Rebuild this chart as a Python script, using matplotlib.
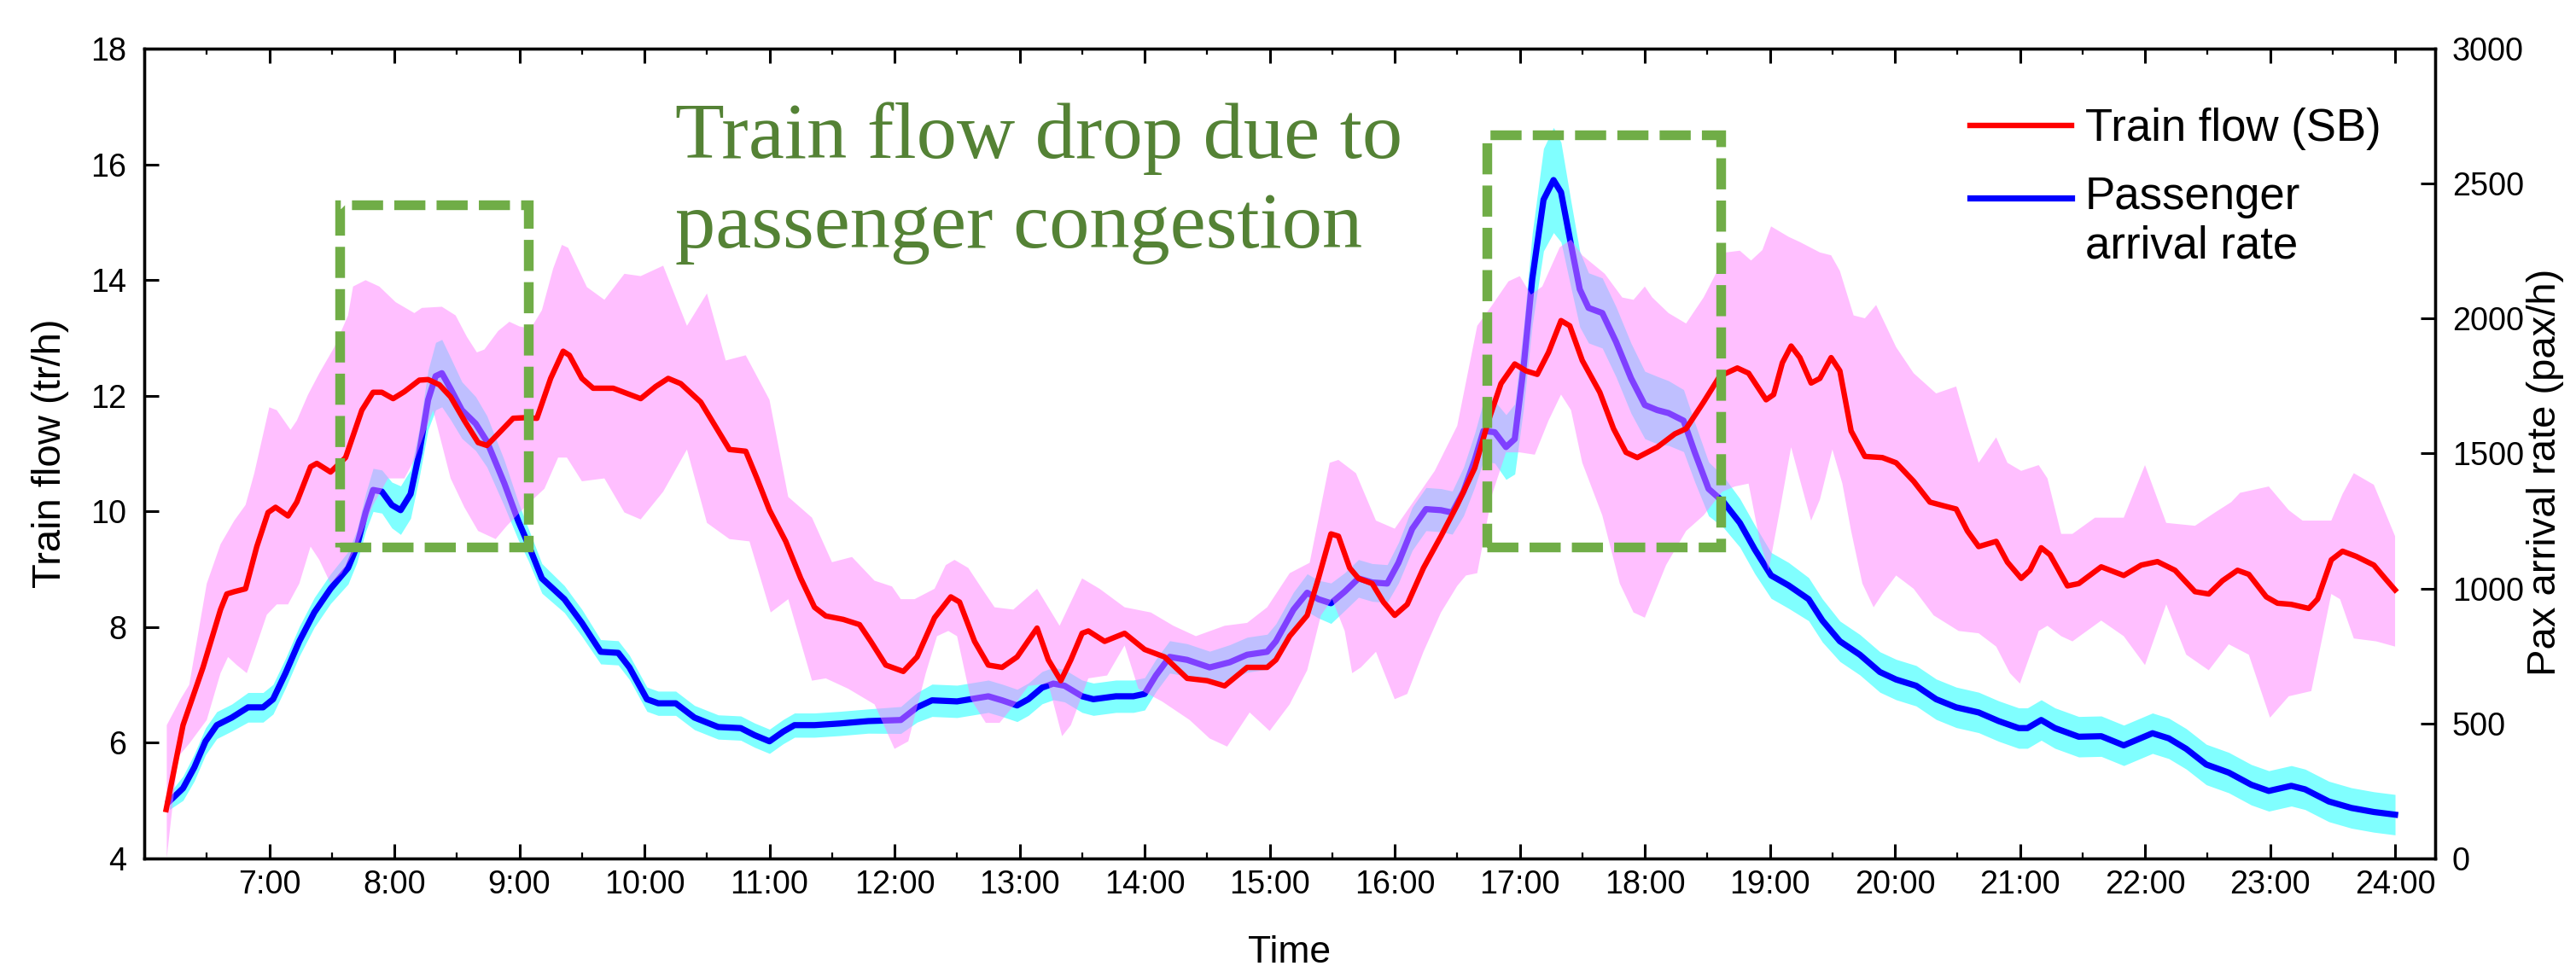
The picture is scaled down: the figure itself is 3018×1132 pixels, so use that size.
import numpy as np
import matplotlib
matplotlib.use('Agg')
import matplotlib.pyplot as plt
from matplotlib.patches import Rectangle
from matplotlib.lines import Line2D

plt.rcParams['font.family'] = ['Liberation Sans Narrow', 'Liberation Sans', 'DejaVu Sans']

# train flow (SB), tr/h, against hour of day
flow_t = [6.175, 6.31, 6.47, 6.61, 6.66, 6.72, 6.81, 6.90, 6.99, 7.05, 7.15, 7.22, 7.33, 7.38, 7.49,
          7.61, 7.74, 7.83, 7.90, 7.99, 8.08, 8.20, 8.27, 8.36, 8.45, 8.56, 8.67, 8.74, 8.83, 8.95,
          9.04, 9.14, 9.25, 9.35, 9.40, 9.50, 9.59, 9.75, 9.86, 9.97, 10.09, 10.19, 10.29, 10.45,
          10.54, 10.68, 10.81, 10.90, 11.00, 11.13, 11.25, 11.36, 11.45, 11.59, 11.72, 11.81, 11.93,
          12.07, 12.18, 12.32, 12.45, 12.52, 12.64, 12.75, 12.86, 12.98, 13.14, 13.23, 13.33, 13.41,
          13.50, 13.55, 13.68, 13.84, 14.00, 14.16, 14.34, 14.50, 14.64, 14.82, 14.98, 15.05, 15.16,
          15.30, 15.39, 15.49, 15.55, 15.64, 15.71, 15.82, 15.91, 16.00, 16.10, 16.23, 16.37, 16.50,
          16.64, 16.75, 16.85, 16.96, 17.05, 17.14, 17.23, 17.33, 17.40, 17.50, 17.64, 17.75, 17.85,
          17.94, 18.10, 18.24, 18.33, 18.47, 18.60, 18.74, 18.83, 18.97, 19.03, 19.10, 19.17, 19.24,
          19.33, 19.40, 19.49, 19.56, 19.65, 19.76, 19.90, 20.01, 20.15, 20.28, 20.40, 20.49, 20.58,
          20.67, 20.81, 20.90, 21.01, 21.08, 21.17, 21.24, 21.38, 21.47, 21.65, 21.83, 21.97, 22.10,
          22.24, 22.40, 22.51, 22.62, 22.74, 22.83, 22.97, 23.06, 23.17, 23.31, 23.38, 23.49, 23.58,
          23.69, 23.83, 23.92, 24.00]
flow = [4.84, 6.30, 7.30, 8.30, 8.57, 8.61, 8.66, 9.39, 9.98, 10.07, 9.92, 10.16, 10.77, 10.83, 10.68,
        10.93, 11.75, 12.06, 12.06, 11.95, 12.07, 12.27, 12.28, 12.19, 11.98, 11.57, 11.19, 11.14, 11.34, 11.61,
        11.62, 11.61, 12.30, 12.77, 12.70, 12.30, 12.13, 12.13, 12.04, 11.95, 12.16, 12.30, 12.21, 11.89,
        11.57, 11.07, 11.04, 10.57, 10.02, 9.48, 8.84, 8.34, 8.19, 8.13, 8.04, 7.75, 7.34,
        7.23, 7.48, 8.16, 8.52, 8.43, 7.75, 7.34, 7.30, 7.48, 7.98, 7.43, 7.07, 7.43,
        7.89, 7.93, 7.75, 7.89, 7.61, 7.48, 7.11, 7.07, 6.98, 7.30, 7.30, 7.43, 7.84,
        8.20, 8.84, 9.61, 9.57, 9.02, 8.84, 8.75, 8.43, 8.20, 8.39, 9.02, 9.57, 10.11,
        10.75, 11.57, 12.21, 12.55, 12.43, 12.37, 12.75, 13.30, 13.21, 12.61, 12.06, 11.43, 11.02,
        10.93, 11.11, 11.34, 11.43, 11.89, 12.34, 12.48, 12.39, 11.93, 12.02, 12.57, 12.86, 12.66,
        12.22, 12.30, 12.66, 12.43, 11.39, 10.95, 10.93, 10.84, 10.52, 10.16, 10.09, 10.04, 9.66,
        9.39, 9.48, 9.12, 8.84, 8.98, 9.37, 9.25, 8.71, 8.75, 9.04, 8.89, 9.07, 9.13,
        8.98, 8.61, 8.57, 8.80, 8.98, 8.91, 8.52, 8.41, 8.39, 8.32, 8.48, 9.16, 9.31,
        9.22, 9.07, 8.84, 8.64]

# train flow spread, upper edge
flow_hi_t = [6.18, 6.29, 6.36, 6.50, 6.61, 6.72, 6.81, 6.88, 7.00, 7.06, 7.17, 7.22, 7.31, 7.40, 7.52,
             7.63, 7.67, 7.77, 7.88, 8.01, 8.16, 8.22, 8.38, 8.49, 8.58, 8.66, 8.72, 8.83, 8.92, 9.00,
             9.09, 9.18, 9.27, 9.34, 9.39, 9.54, 9.68, 9.84, 9.97, 10.15, 10.34, 10.50, 10.65, 10.81,
             11.00, 11.15, 11.34, 11.50, 11.66, 11.84, 11.98, 12.05, 12.16, 12.32, 12.41, 12.48, 12.59,
             12.70, 12.80, 12.95, 13.14, 13.32, 13.50, 13.64, 13.84, 14.05, 14.23, 14.41, 14.64, 14.82,
             14.98, 15.16, 15.32, 15.48, 15.55, 15.69, 15.85, 16.00, 16.16, 16.32, 16.50, 16.66, 16.78,
             16.91, 17.00, 17.09, 17.18, 17.32, 17.41, 17.50, 17.68, 17.82, 17.91, 18.00, 18.06, 18.19,
             18.33, 18.47, 18.58, 18.65, 18.76, 18.85, 18.94, 19.01, 19.15, 19.24, 19.40, 19.49, 19.56,
             19.67, 19.76, 19.85, 20.01, 20.15, 20.33, 20.49, 20.58, 20.67, 20.81, 20.90, 21.01, 21.15,
             21.22, 21.33, 21.42, 21.60, 21.83, 22.00, 22.17, 22.40, 22.56, 22.69, 22.76, 22.99, 23.15,
             23.26, 23.49, 23.58, 23.67, 23.83, 24.00]
flow_hi = [6.30, 6.75, 7.00, 8.75, 9.43, 9.84, 10.11, 10.66, 11.80, 11.75, 11.41, 11.57, 12.02, 12.39, 12.84,
           13.39, 13.89, 14.00, 13.89, 13.62, 13.43, 13.52, 13.54, 13.39, 13.02, 12.75, 12.80, 13.12, 13.28, 13.20,
           13.16, 13.48, 14.20, 14.61, 14.56, 13.88, 13.66, 14.11, 14.07, 14.25, 13.21, 13.77, 12.61, 12.70,
           11.93, 10.25, 9.89, 9.12, 9.21, 8.80, 8.70, 8.48, 8.48, 8.66, 9.07, 9.16, 9.02,
           8.66, 8.34, 8.30, 8.66, 8.02, 8.84, 8.66, 8.34, 8.25, 8.02, 7.84, 8.02, 8.07,
           8.34, 8.93, 9.11, 10.84, 10.89, 10.66, 9.84, 9.70, 10.20, 10.70, 11.48, 13.21, 13.57,
           13.98, 14.07, 13.75, 13.89, 14.57, 14.70, 14.43, 14.11, 13.70, 13.66, 13.89, 13.70, 13.43,
           13.25, 13.70, 14.16, 14.48, 14.51, 14.34, 14.52, 14.93, 14.75, 14.66, 14.48, 14.43, 14.16,
           13.39, 13.34, 13.57, 12.84, 12.39, 12.04, 12.16, 11.48, 10.84, 11.28, 10.84, 10.70, 10.80,
           10.57, 9.61, 9.61, 9.89, 9.89, 10.80, 9.80, 9.75, 9.98, 10.16, 10.32, 10.43, 10.02,
           9.84, 9.84, 10.30, 10.66, 10.46, 9.57]

# train flow spread, lower edge
flow_lo_t = [6.18, 6.27, 6.36, 6.50, 6.61, 6.67, 6.74, 6.82, 6.88, 6.98, 7.06, 7.15, 7.24, 7.33, 7.40,
             7.49, 7.58, 7.70, 7.83, 7.95, 8.08, 8.17, 8.31, 8.45, 8.56, 8.67, 8.81, 8.90, 9.06, 9.20,
             9.31, 9.38, 9.50, 9.68, 9.84, 9.97, 10.15, 10.34, 10.50, 10.68, 10.84, 11.01, 11.15, 11.34,
             11.45, 11.63, 11.84, 12.00, 12.11, 12.25, 12.34, 12.43, 12.50, 12.61, 12.73, 12.84, 12.98,
             13.07, 13.23, 13.34, 13.41, 13.55, 13.70, 13.84, 13.95, 14.14, 14.36, 14.52, 14.66, 14.84,
             15.00, 15.16, 15.30, 15.41, 15.50, 15.60, 15.66, 15.73, 15.85, 16.00, 16.10, 16.23, 16.37,
             16.50, 16.57, 16.66, 16.78, 16.89, 17.00, 17.12, 17.23, 17.33, 17.41, 17.50, 17.66, 17.80,
             17.91, 18.00, 18.17, 18.33, 18.47, 18.62, 18.72, 18.83, 18.92, 18.99, 19.08, 19.17, 19.26,
             19.33, 19.40, 19.50, 19.58, 19.65, 19.74, 19.83, 19.90, 20.01, 20.15, 20.31, 20.51, 20.67,
             20.81, 20.92, 21.00, 21.15, 21.22, 21.33, 21.42, 21.65, 21.83, 22.00, 22.17, 22.33, 22.51,
             22.67, 22.83, 23.00, 23.15, 23.33, 23.49, 23.56, 23.67, 23.85, 24.00]
flow_lo = [4.00, 5.75, 5.98, 6.39, 7.20, 7.48, 7.34, 7.20, 7.57, 8.21, 8.39, 8.39, 8.75, 9.39, 9.16,
           8.75, 8.93, 9.39, 10.11, 10.57, 10.57, 10.93, 11.75, 10.57, 10.07, 9.66, 9.52, 9.75, 10.11, 10.39,
           10.93, 10.93, 10.52, 10.57, 9.98, 9.86, 10.34, 11.07, 9.80, 9.52, 9.48, 8.25, 8.48, 7.07,
           7.11, 6.93, 6.66, 5.89, 6.02, 7.20, 7.84, 7.93, 7.84, 6.75, 6.34, 6.34, 6.71,
           6.98, 7.02, 6.11, 6.30, 7.11, 7.16, 7.68, 6.93, 6.71, 6.39, 6.07, 5.93, 6.52,
           6.20, 6.66, 7.25, 8.20, 8.48, 7.93, 7.20, 7.30, 7.57, 6.75, 6.84, 7.57, 8.25,
           8.71, 8.89, 8.93, 10.30, 11.02, 11.02, 10.98, 11.57, 12.02, 11.75, 10.84, 9.93, 8.75,
           8.25, 8.16, 9.07, 9.66, 9.93, 10.34, 10.43, 10.48, 9.48, 8.98, 10.02, 11.11, 10.39,
           9.84, 10.20, 11.07, 10.48, 9.66, 8.75, 8.34, 8.57, 8.89, 8.66, 8.20, 7.93, 7.89,
           7.66, 7.20, 7.02, 7.93, 8.02, 7.84, 7.75, 8.11, 7.84, 7.34, 8.39, 7.52, 7.25,
           7.70, 7.52, 6.43, 6.80, 6.89, 8.57, 8.48, 7.80, 7.75, 7.66]

# passenger arrival rate (pax/h) and half width of its band
pax_t = [6.20, 6.31, 6.40, 6.49, 6.58, 6.70, 6.83, 6.95, 7.03, 7.13, 7.24, 7.36, 7.49, 7.63, 7.70,
         7.77, 7.83, 7.90, 7.98, 8.05, 8.13, 8.20, 8.27, 8.33, 8.38, 8.45, 8.54, 8.65, 8.74, 8.88,
         8.99, 9.07, 9.18, 9.36, 9.50, 9.65, 9.79, 9.88, 10.02, 10.11, 10.25, 10.40, 10.59, 10.77,
         10.88, 11.00, 11.11, 11.20, 11.36, 11.56, 11.79, 12.05, 12.18, 12.30, 12.50, 12.75, 12.86,
         12.98, 13.07, 13.18, 13.27, 13.36, 13.50, 13.59, 13.77, 13.91, 14.00, 14.09, 14.20, 14.34,
         14.52, 14.68, 14.82, 14.98, 15.05, 15.19, 15.30, 15.39, 15.49, 15.60, 15.71, 15.82, 15.94,
         16.03, 16.14, 16.25, 16.37, 16.46, 16.55, 16.64, 16.71, 16.80, 16.89, 16.96, 17.03, 17.10,
         17.19, 17.27, 17.33, 17.41, 17.48, 17.55, 17.66, 17.77, 17.89, 18.00, 18.10, 18.19, 18.31,
         18.40, 18.51, 18.63, 18.76, 18.88, 19.01, 19.15, 19.31, 19.42, 19.56, 19.72, 19.88, 20.01,
         20.17, 20.33, 20.49, 20.67, 20.83, 20.99, 21.06, 21.17, 21.28, 21.47, 21.65, 21.83, 22.06,
         22.19, 22.33, 22.49, 22.67, 22.85, 22.99, 23.17, 23.28, 23.47, 23.65, 23.83, 24.00]
pax = [210, 259, 336, 433, 493, 521, 559, 559, 589, 686, 804, 911, 999, 1076, 1155,
       1281, 1365, 1359, 1309, 1290, 1350, 1504, 1699, 1787, 1798, 1740, 1661, 1611, 1545, 1389,
       1251, 1164, 1037, 960, 872, 765, 761, 707, 589, 574, 574, 521, 486, 482,
       456, 433, 469, 493, 493, 499, 508, 512, 559, 585, 581, 600, 585,
       566, 589, 632, 647, 639, 600, 589, 600, 600, 609, 677, 746, 735,
       707, 726, 754, 765, 804, 921, 984, 960, 945, 988, 1037, 1022, 1018,
       1095, 1221, 1294, 1290, 1281, 1359, 1476, 1584, 1579, 1524, 1554, 1817, 2147,
       2441, 2514, 2469, 2274, 2109, 2040, 2021, 1914, 1779, 1680, 1661, 1650, 1622,
       1504, 1369, 1320, 1243, 1144, 1048, 1011, 960, 881, 804, 754, 690, 662,
       639, 589, 559, 540, 508, 482, 482, 512, 482, 450, 452, 418, 463,
       444, 405, 347, 317, 272, 249, 268, 255, 210, 186, 171, 161]
pax_spread = [30, 45, 50, 50, 50, 50, 55, 55, 55, 55, 55, 55, 55, 60, 60,
              70, 80, 80, 85, 90, 90, 90, 110, 125, 125, 115, 105, 100, 95, 85,
              70, 60, 55, 50, 50, 45, 45, 45, 45, 45, 45, 45, 45, 45,
              45, 45, 45, 45, 45, 45, 45, 50, 55, 60, 60, 60, 60,
              60, 60, 60, 60, 60, 60, 60, 60, 60, 60, 60, 60, 60,
              60, 65, 65, 65, 65, 65, 70, 70, 75, 70, 70, 70, 70,
              75, 80, 80, 80, 80, 90, 100, 110, 115, 120, 130, 150, 170,
              190, 195, 185, 160, 140, 130, 130, 130, 130, 125, 125, 120, 115,
              110, 100, 95, 90, 90, 85, 85, 80, 80, 75, 75, 75, 75,
              75, 75, 75, 75, 75, 75, 75, 75, 75, 75, 75, 75, 75,
              75, 75, 75, 75, 75, 75, 75, 75, 75, 75, 75, 75]

hour_ticks = list(range(7, 25))
hour_labels = [f'{h}:00' for h in hour_ticks]

# highlighted windows: (start hour, end hour, low, high) in tr/h
boxes = [(7.566, 9.07, 9.39, 15.30), (16.74, 18.61, 9.39, 16.51)]

green_box = '#70AD47'
green_text = '#548235'

fig = plt.figure(figsize=(15.09, 5.66), dpi=200)
ax = fig.add_axes([0.056, 0.1117, 0.8893, 0.8376])
ax2 = ax.twinx()
ax.set_zorder(ax2.get_zorder() + 1)
ax.patch.set_visible(False)

pax = np.array(pax, dtype=float)
pax_spread = np.array(pax_spread, dtype=float)
ax2.fill_between(pax_t, pax - pax_spread, pax + pax_spread, color='#80FFFF', lw=0)
ax2.plot(pax_t, pax, color='#0000FF', lw=2.6, solid_joinstyle='round')

poly_x = np.concatenate([flow_hi_t, flow_lo_t[::-1]])
poly_y = np.concatenate([flow_hi, flow_lo[::-1]])
ax.fill(poly_x, poly_y, color=(1.0, 0.5, 1.0), alpha=0.5, lw=0)
ax.plot(flow_t, flow, color='#FF0000', lw=2.3, solid_joinstyle='round')

for x0, x1, y0, y1 in boxes:
    ax.add_patch(Rectangle((x0, y0), x1 - x0, y1 - y0, fill=False, edgecolor=green_box,
                           lw=4.1, linestyle=(0, (3.2, 1.15)), zorder=5))

# baseline of the last line is used for the anchor
ax.text(0.2317, 0.7547, 'Train flow drop due to\npassenger congestion', transform=ax.transAxes,
        fontsize=34, family='Liberation Serif', color=green_text, va='baseline', linespacing=1.3)

ax.set_xlim(6, 24.32)
ax.set_ylim(4, 18)
ax2.set_ylim(0, 3000)
ax.set_xticks(hour_ticks)
ax.set_xticklabels(hour_labels)
ax.set_xticks(np.arange(6.5, 24.01, 1.0), minor=True)
ax.set_yticks(range(4, 19, 2))
ax2.set_yticks(range(0, 3001, 500))

ax.tick_params(axis='x', which='major', direction='in', length=6, width=1.1, top=True,
               pad=4.7, labelsize=13.6)
ax.tick_params(axis='x', which='minor', direction='in', length=2.5, width=0.8, top=True)
ax.tick_params(axis='y', direction='in', length=6, width=1.1, right=False, pad=7.6, labelsize=13.6)
ax2.tick_params(axis='y', direction='in', length=6, width=1.1, pad=7.2, labelsize=13.6)
for a in (ax, ax2):
    for s in a.spines.values():
        s.set_linewidth(1.2)

ax.set_xlabel('Time', fontsize=16)
ax.xaxis.set_label_coords(0.5, -0.0955)
ax.set_ylabel('Train flow (tr/h)', fontsize=17)
ax.yaxis.set_label_coords(-0.0328, 0.5)
ax2.set_ylabel('Pax arrival rate (pax/h)', fontsize=17)
ax2.yaxis.set_label_coords(1.040, 0.477)

handles = [Line2D([], [], color='#FF0000', lw=2.3), Line2D([], [], color='#0000FF', lw=2.6)]
leg = ax.legend(handles, ['Train flow (SB)', 'Passenger\narrival rate'], loc='upper left',
                bbox_to_anchor=(0.7648, 0.8887), bbox_transform=fig.transFigure, frameon=False,
                fontsize=19, handlelength=2.25, handletextpad=0.3, borderpad=0, borderaxespad=0,
                labelspacing=0.56)
# put the blue key beside the first line of its two-line label
blue_key = leg.get_lines()[1]
blue_key.set_ydata(np.asarray(blue_key.get_ydata(), dtype=float) + 10.4)

fig.savefig('out.png', dpi=200)
